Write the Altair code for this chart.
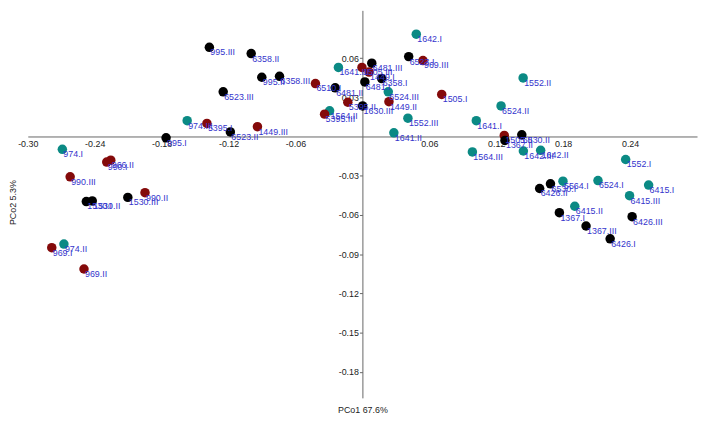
import altair as alt
import pandas as pd

# ---- data ----
labels = ["974.I", "966.II", "990.I", "990.III", "1530.I", "1530.II", "1530.III", "990.II",
          "974.II", "969.I", "969.II", "995.III", "6358.II", "995.II", "6358.III", "6523.III",
          "974.III", "5395.I", "6523.II", "1449.III", "995.I", "6510.I", "6481.II", "1641.III",
          "1505.III", "6481.III", "1449.I", "6358.I", "6481.I", "6524.III", "5395.II", "1449.II",
          "1630.III", "1564.II", "5395.III", "1552.III", "1641.II", "969.III", "6523.I", "1642.I",
          "1505.I", "1552.II", "6524.II", "1641.I", "1505.II", "6530.II", "1367.II", "1642.III",
          "1642.II", "1564.III", "1552.I", "6426.II", "6530.I", "5564.I", "6524.I", "6415.I",
          "6415.III", "6415.II", "1367.I", "6426.III", "1367.III", "6426.I"]
pc1 = [-0.269, -0.2256, -0.2292, -0.262, -0.2475, -0.2422, -0.2103, -0.1949,
       -0.2676, -0.2785, -0.2496, -0.1372, -0.0997, -0.0902, -0.0743, -0.1248,
       -0.1571, -0.1394, -0.1184, -0.0941, -0.1760, -0.0421, -0.0244, -0.0215,
       -0.0004, 0.0084, 0.0060, 0.0173, 0.0022, 0.0232, -0.0131, 0.0238,
       0.0002, -0.0294, -0.0339, 0.0408, 0.0282, 0.0543, 0.0415, 0.0483,
       0.0711, 0.1441, 0.1243, 0.1021, 0.1272, 0.1429, 0.1278, 0.1443,
       0.1598, 0.0986, 0.2360, 0.1589, 0.1686, 0.1798, 0.2112, 0.2566,
       0.2395, 0.1904, 0.1766, 0.2418, 0.2005, 0.2221]
pc2 = [-0.0098, -0.0181, -0.0196, -0.0309, -0.0498, -0.0493, -0.0466, -0.0430,
       -0.0823, -0.0851, -0.1014, 0.0682, 0.0634, 0.0453, 0.0460, 0.0342,
       0.0121, 0.0100, 0.0035, 0.0075, -0.0010, 0.0405, 0.0372, 0.0528,
       0.0528, 0.0561, 0.0493, 0.0443, 0.0417, 0.0342, 0.0262, 0.0266,
       0.0234, 0.0196, 0.0171, 0.0140, 0.0028, 0.0581, 0.0611, 0.0783,
       0.0322, 0.0448, 0.0234, 0.0121, 0.0008, 0.0013, -0.0030, -0.0111,
       -0.0106, -0.0118, -0.0176, -0.0398, -0.0362, -0.0342, -0.0337, -0.0372,
       -0.0453, -0.0534, -0.0583, -0.0614, -0.0685, -0.0783]
groups = ["teal", "red", "red", "red", "black", "black", "black", "red",
          "teal", "red", "red", "black", "black", "black", "black", "black",
          "teal", "red", "black", "red", "black", "red", "black", "teal",
          "red", "black", "red", "black", "black", "teal", "red", "red",
          "black", "teal", "red", "teal", "teal", "red", "black", "teal",
          "red", "teal", "teal", "teal", "red", "black", "black", "teal",
          "teal", "teal", "teal", "black", "black", "teal", "teal", "teal",
          "teal", "teal", "black", "black", "black", "black"]

x_ticks = [-0.30, -0.24, -0.18, -0.12, -0.06, 0.06, 0.12, 0.18, 0.24]
y_ticks = [0.06, 0.03, -0.03, -0.06, -0.09, -0.12, -0.15, -0.18]

df = pd.DataFrame({"label": labels, "pc1": pc1, "pc2": pc2, "group": groups})

X_DOMAIN = [-0.30, 0.30]
Y_DOMAIN = [-0.20, 0.0965]
W, H = 677, 392
x0_pix = W * (0 - X_DOMAIN[0]) / (X_DOMAIN[1] - X_DOMAIN[0])
y0_pix = H * (Y_DOMAIN[1] - 0) / (Y_DOMAIN[1] - Y_DOMAIN[0])

FONT = "Liberation Sans"
lab_expr = "datum.value < 0 ? '-' + format(-datum.value, '.2f') : format(datum.value, '.2f')"

x_enc = alt.X(
    "pc1:Q",
    scale=alt.Scale(domain=X_DOMAIN, nice=False, zero=False),
    axis=alt.Axis(
        values=x_ticks, labelExpr=lab_expr, orient="bottom", offset=-(H - y0_pix),
        grid=False, ticks=False, labelPadding=3, labelFontSize=9, labelColor="#222222",
        labelFont=FONT, labelFlush=False, labelOverlap=False,
        domainColor="#666666", domainWidth=1,
        title="PCo1 67.6%", titleFont=FONT, titleFontSize=9, titleFontWeight="normal",
        titleColor="#222222", titleX=W / 2, titleY=404 - y0_pix,
        titleBaseline="middle", titleAlign="center",
    ),
)
y_enc = alt.Y(
    "pc2:Q",
    scale=alt.Scale(domain=Y_DOMAIN, nice=False, zero=False),
    axis=alt.Axis(
        values=y_ticks, labelExpr=lab_expr, orient="left", offset=-x0_pix,
        grid=False, ticks=True, tickSize=3, tickColor="#666666", labelPadding=1,
        labelFontSize=9, labelColor="#222222", labelFont=FONT,
        labelFlush=False, labelOverlap=False,
        domainColor="#666666", domainWidth=1,
        title="PCo2 5.3%", titleFont=FONT, titleFontSize=9, titleFontWeight="normal",
        titleColor="#222222", titleX=-15 - x0_pix, titleY=194, titleAngle=270,
        titleBaseline="middle", titleAlign="center",
    ),
)

points = alt.Chart(df).mark_circle(size=92, opacity=1).encode(
    x=x_enc,
    y=y_enc,
    color=alt.Color(
        "group:N",
        scale=alt.Scale(domain=["teal", "red", "black"],
                        range=["#0b8a84", "#840a0a", "#000000"]),
        legend=None,
    ),
)

texts = alt.Chart(df).mark_text(
    align="left", baseline="middle", dx=1, dy=5, fontSize=9, font=FONT, color="#3434cc"
).encode(x=x_enc, y=y_enc, text="label:N")

chart = alt.layer(points, texts).properties(
    width=W, height=H,
    autosize=alt.AutoSizeParams(type="none"),
    padding={"left": 20, "top": 0, "right": 3, "bottom": 20},
).configure_view(stroke=None)

chart.save("out.html", embed_options={"renderer": "svg", "actions": False})
